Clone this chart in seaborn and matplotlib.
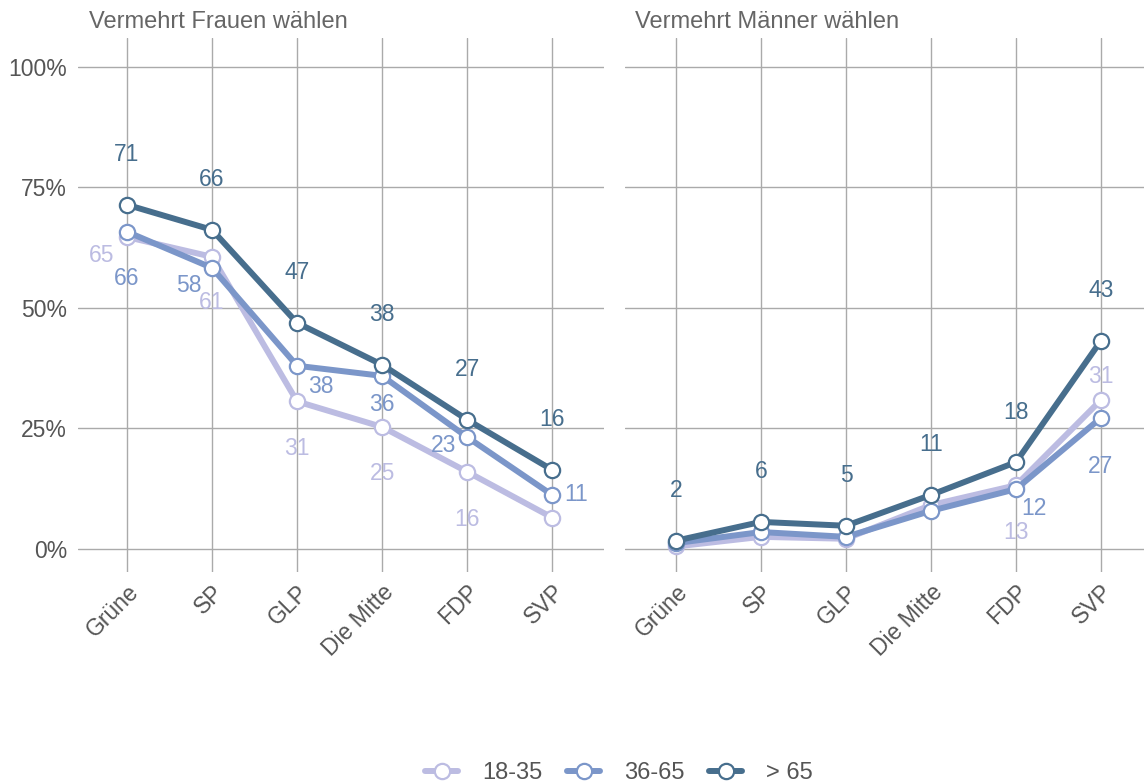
import pandas as pd
import seaborn as sns
import matplotlib.pyplot as plt
from matplotlib.lines import Line2D

# Daten
parteien = ['Grüne', 'SP', 'GLP', 'Die Mitte', 'FDP', 'SVP']
gruppen = ['18-35', '36-65', '> 65']
farben = ['#bcbce2', '#7b96c9', '#476e8d']

frauen_18 = [64.7, 60.6, 30.6, 25.3, 16.0, 6.5]
frauen_36 = [65.8, 58.3, 38.0, 35.9, 23.2, 11.2]
frauen_65 = [71.4, 66.2, 46.9, 38.2, 26.8, 16.4]

maenner_18 = [0.5, 2.5, 2.1, 9.1, 13.2, 30.9]
maenner_36 = [1.2, 3.5, 2.5, 7.9, 12.4, 27.2]
maenner_65 = [1.7, 5.6, 4.8, 11.2, 18.0, 43.2]

titel = ['Vermehrt Frauen wählen', 'Vermehrt Männer wählen']

# Label-Versatz in Pixel (dx, dy), None = kein Label
versatz_frauen = [
    [(-25, -18), (0, -46), (0, -47), (0, -47), (0, -48), None],
    [(0, -47), (-23, -18), (24, -21), (0, -29), (-24, -8), (24, 0)],
    [(0, 50)] * 6,
]
versatz_maenner = [
    [None, None, None, None, (0, -47), (0, 23)],
    [None, None, None, None, (18, -19), (0, -49)],
    [(0, 50)] * 6,
]


def to_df(reihen):
    rows = []
    for g, werte in zip(gruppen, reihen):
        for p, v in zip(parteien, werte):
            rows.append({'Partei': p, 'Anteil': v, 'Gruppe': g})
    return pd.DataFrame(rows)


df_f = to_df([frauen_18, frauen_36, frauen_65])
df_m = to_df([maenner_18, maenner_36, maenner_65])

sns.set_style('white')
plt.rcParams['font.family'] = ['Liberation Sans', 'DejaVu Sans']

fig = plt.figure(figsize=(11.44, 7.82), dpi=100)
ax1 = fig.add_axes([0.0682, 0.2685, 0.4598, 0.6829])
ax2 = fig.add_axes([0.5463, 0.2685, 0.4537, 0.6829])

for ax, df, reihen, versatz, t, xl in [
    (ax1, df_f, [frauen_18, frauen_36, frauen_65], versatz_frauen, titel[0], (-0.576, 5.61)),
    (ax2, df_m, [maenner_18, maenner_36, maenner_65], versatz_maenner, titel[1], (-0.6, 5.506)),
]:
    sns.lineplot(data=df, x='Partei', y='Anteil', hue='Gruppe', palette=farben,
                 hue_order=gruppen, marker='o', markersize=11, markerfacecolor='white',
                 markeredgewidth=1.6, linewidth=4.3, ax=ax, legend=False)
    # Markerrand in Linienfarbe
    for line, c in zip(ax.lines, farben):
        line.set_markeredgecolor(c)

    for gi, werte in enumerate(reihen):
        for pi, v in enumerate(werte):
            off = versatz[gi][pi]
            if off is None:
                continue
            ax.annotate(f'{round(v)}', (pi, v), xytext=off, textcoords='offset pixels',
                        ha='center', va='center', fontsize=16.5, color=farben[gi], zorder=5)

    ax.set_xlim(*xl)
    ax.set_ylim(-4.8, 106)
    ax.set_yticks([0, 25, 50, 75, 100])
    ax.set_yticklabels(['0%', '25%', '50%', '75%', '100%'])
    ax.grid(True, color='#aaaaaa', linewidth=1)
    ax.set_axisbelow(True)
    for s in ax.spines.values():
        s.set_visible(False)
    ax.set_xlabel('')
    ax.set_ylabel('')
    ax.tick_params(axis='both', length=0, labelsize=16.5, labelcolor='#555555')
    ax.tick_params(axis='y', pad=8)
    ax.tick_params(axis='x', pad=6)
    plt.setp(ax.get_xticklabels(), rotation=45, ha='right', rotation_mode='anchor')
    ax.text(0.02, 1.01, t, transform=ax.transAxes, fontsize=17, color='#666666',
            ha='left', va='bottom')

ax2.set_yticklabels([])

handles = [Line2D([], [], color=c, linewidth=4.3, marker='o', markersize=11,
                  markerfacecolor='white', markeredgecolor=c, markeredgewidth=1.6)
           for c in farben]
fig.legend(handles, gruppen, loc='lower center', bbox_to_anchor=(0.541, -0.03), ncol=3,
           frameon=False, fontsize=17, handlelength=1.4, handletextpad=1.0,
           columnspacing=1.05, labelcolor='#555555')

fig.savefig('out.png', dpi=100)
